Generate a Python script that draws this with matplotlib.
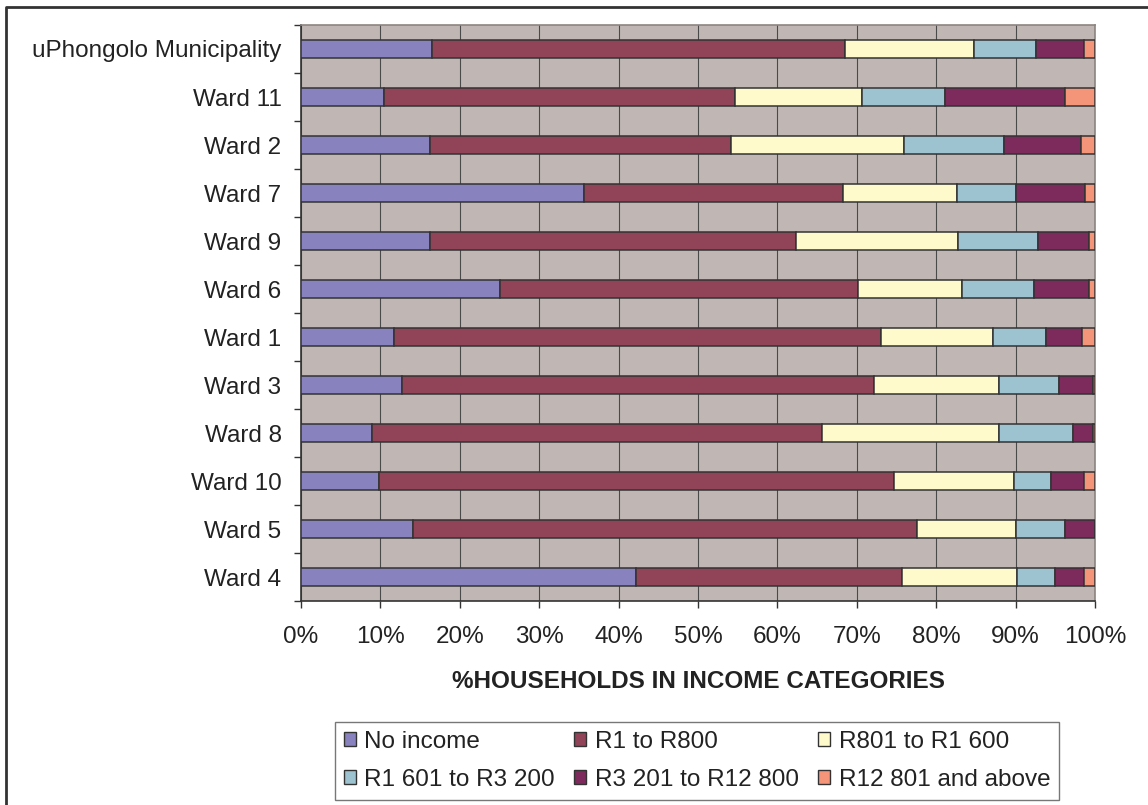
import numpy as np
import matplotlib
matplotlib.use("Agg")
import matplotlib.pyplot as plt
from matplotlib.patches import Patch
from matplotlib.lines import Line2D
from matplotlib.ticker import FixedLocator, PercentFormatter

plt.rcParams["font.family"] = ["Liberation Sans", "DejaVu Sans"]

areas = [
    "uPhongolo Municipality", "Ward 11", "Ward 2", "Ward 7", "Ward 9", "Ward 6",
    "Ward 1", "Ward 3", "Ward 8", "Ward 10", "Ward 5", "Ward 4",
]
series_names = [
    "No income", "R1 to R800", "R801 to R1 600",
    "R1 601 to R3 200", "R3 201 to R12 800", "R12 801 and above",
]
no_income = [16.5, 10.5, 16.2, 35.6, 16.2, 25.1, 11.7, 12.7, 8.9, 9.8, 14.1, 42.2]
r1_r800 = [52.0, 44.2, 38.0, 32.7, 46.1, 45.0, 61.4, 59.5, 56.7, 64.9, 63.5, 33.5]
r801_r1600 = [16.2, 15.9, 21.7, 14.3, 20.5, 13.2, 14.0, 15.7, 22.3, 15.1, 12.4, 14.5]
r1601_r3200 = [7.9, 10.5, 12.6, 7.4, 10.0, 9.0, 6.7, 7.6, 9.3, 4.7, 6.2, 4.8]
r3201_r12800 = [6.0, 15.1, 9.7, 8.8, 6.5, 7.0, 4.6, 4.3, 2.6, 4.1, 3.8, 3.6]
r12801_up = [1.4, 3.8, 1.8, 1.2, 0.7, 0.7, 1.6, 0.2, 0.2, 1.4, 0.0, 1.4]

colors = ["#8882be", "#914458", "#fffacc", "#9dc3d1", "#7d2a5d", "#f4957a"]

fig = plt.figure(figsize=(11.48, 8.05), dpi=100)
ax = fig.add_axes([301 / 1148, 1 - 601 / 805, 794 / 1148, 576 / 805])
ax.set_facecolor("#c0b7b4")

y = np.arange(len(areas))
left = np.zeros(len(areas))
handles = []
for name, vals, col in zip(series_names,
                           [no_income, r1_r800, r801_r1600, r1601_r3200, r3201_r12800, r12801_up],
                           colors):
    vals = np.array(vals)
    ax.barh(y, vals, left=left, height=0.36, color=col, edgecolor="#333333",
            linewidth=1.1, zorder=3)
    left += vals
    handles.append(Patch(facecolor=col, edgecolor="#333333", linewidth=1.0, label=name))

ax.set_xlim(0, 100)
ax.set_ylim(len(areas) - 0.5, -0.5)
ax.set_xticks(np.arange(0, 101, 10))
ax.xaxis.set_major_formatter(PercentFormatter(decimals=0))
ax.set_yticks(y)
ax.set_yticklabels(areas)
ax.yaxis.set_minor_locator(FixedLocator(np.arange(-0.5, len(areas), 1.0)))
ax.tick_params(axis="y", which="major", length=0, pad=14, labelsize=17.5, labelcolor="#222222")
ax.tick_params(axis="y", which="minor", length=5, width=1, color="#333333")
ax.tick_params(axis="x", length=5, width=1, color="#333333", pad=13,
               labelsize=17.5, labelcolor="#222222")
ax.xaxis.grid(True, color="#4a4a4a", linewidth=0.8, zorder=1)
ax.set_axisbelow(True)

for side in ["left", "bottom"]:
    ax.spines[side].set_color("#333333")
    ax.spines[side].set_linewidth(1.2)
for side in ["top", "right"]:
    ax.spines[side].set_color("#8c8480")
    ax.spines[side].set_linewidth(1.2)

ax.set_xlabel("%HOUSEHOLDS IN INCOME CATEGORIES", fontsize=17.5, fontweight="bold",
              color="#222222", labelpad=16)

# legend fills column-wise, so interleave to get the two rows of three
order = [0, 3, 1, 4, 2, 5]
leg = fig.legend([handles[i] for i in order], [series_names[i] for i in order],
                 ncol=3, loc="upper left", bbox_to_anchor=(335 / 1148, 1 - 722 / 805),
                 fontsize=17.5, frameon=True, fancybox=False, framealpha=1,
                 edgecolor="#777777", handlelength=0.5, handleheight=0.5,
                 handletextpad=0.35, columnspacing=0.8, labelspacing=0.68,
                 borderpad=0.35, borderaxespad=0)
leg.get_frame().set_linewidth(1.0)
for t in leg.get_texts():
    t.set_color("#222222")

# outer chart border (top and left edges visible)
fig.add_artist(Line2D([6 / 1148, 6 / 1148, 1.0], [0.0, 1 - 7 / 805, 1 - 7 / 805],
                      transform=fig.transFigure, color="#333333", linewidth=2))

fig.savefig("out.png", dpi=100)
